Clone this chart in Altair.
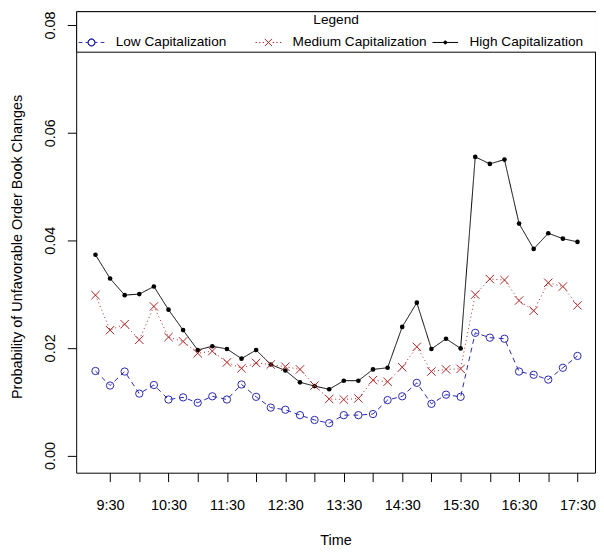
import altair as alt
import pandas as pd

# ---- data ----
times = ["9:15", "9:30", "9:45", "10:00", "10:15", "10:30", "10:45", "11:00",
         "11:15", "11:30", "11:45", "12:00", "12:15", "12:30", "12:45", "13:00",
         "13:15", "13:30", "13:45", "14:00", "14:15", "14:30", "14:45", "15:00",
         "15:15", "15:30", "15:45", "16:00", "16:15", "16:30", "16:45", "17:00",
         "17:15", "17:30"]

low = [0.0157, 0.0130, 0.0156, 0.0115, 0.0131, 0.0104, 0.0108, 0.0098, 0.0110,
       0.0104, 0.0132, 0.0109, 0.0089, 0.0085, 0.0075, 0.0066, 0.0060, 0.0075,
       0.0075, 0.0077, 0.0103, 0.0110, 0.0135, 0.0096, 0.0113, 0.0109, 0.0228,
       0.0219, 0.0217, 0.0156, 0.0150, 0.0141, 0.0163, 0.0185]

medium = [0.0298, 0.0233, 0.0244, 0.0215, 0.0277, 0.0220, 0.0212, 0.0190, 0.0194,
          0.0173, 0.0162, 0.0172, 0.0169, 0.0165, 0.0160, 0.0130, 0.0105, 0.0104,
          0.0106, 0.0140, 0.0137, 0.0164, 0.0202, 0.0156, 0.0160, 0.0161, 0.0299,
          0.0328, 0.0326, 0.0288, 0.0269, 0.0321, 0.0314, 0.0279]

high = [0.0373, 0.0329, 0.0298, 0.0300, 0.0314, 0.0271, 0.0233, 0.0196, 0.0203,
        0.0198, 0.0180, 0.0196, 0.0169, 0.0158, 0.0136, 0.0129, 0.0123, 0.0139,
        0.0139, 0.0160, 0.0163, 0.0239, 0.0284, 0.0198, 0.0217, 0.0199, 0.0555,
        0.0542, 0.0550, 0.0431, 0.0384, 0.0413, 0.0403, 0.0397]

series_names = ["Low Capitalization", "Medium Capitalization", "High Capitalization"]
series_values = [low, medium, high]
series_colors = ["#2828B0", "#B22222", "#000000"]
series_dashes = [[5, 4], [1, 3], [1, 0]]

x_tick_hours = [9.5, 10.0, 10.5, 11.0, 11.5, 12.0, 12.5, 13.0, 13.5, 14.0,
                14.5, 15.0, 15.5, 16.0, 16.5, 17.0, 17.5]
y_tick_values = [0.0, 0.02, 0.04, 0.06, 0.08]

# legend glyphs (line sample + marker), unit square [-1, 1]
legend_paths = [
    "M-1,0H-0.72M-0.46,0H-0.28M0.28,0H0.46M0.72,0H1"
    "M0.28,0A0.28,0.28 0 1 1 -0.28,0A0.28,0.28 0 1 1 0.28,0Z"
    "M0.25,0A0.25,0.25 0 1 0 -0.25,0A0.25,0.25 0 1 0 0.25,0Z",
    "M-1,0H-0.9M-0.72,0H-0.62M-0.44,0H-0.34M0.34,0H0.44M0.62,0H0.72M0.9,0H1"
    "M-0.28,-0.28L0.28,0.28M-0.28,0.28L0.28,-0.28",
    "M-1,0H1M0.12,0A0.12,0.12 0 1 1 -0.12,0A0.12,0.12 0 1 1 0.12,0"
    "M0.04,0A0.04,0.04 0 1 1 -0.04,0A0.04,0.04 0 1 1 0.04,0",
]
marker_shapes = ["circle", "M-1,-1L1,1M-1,1L1,-1", "circle"]
marker_sizes = [55, 72, 22]
marker_filled = [False, False, True]


def to_hours(t):
    h, m = t.split(":")
    return int(h) + int(m) / 60.0


rows = []
for name, vals in zip(series_names, series_values):
    for t, v in zip(times, vals):
        rows.append({"time": t, "hour": to_hours(t), "series": name, "value": v})
df = pd.DataFrame(rows)

FONT = "Liberation Sans"
FS = 14.6
LFS = 13.8

x_enc = alt.X(
    "hour:Q",
    scale=alt.Scale(domain=[8.92, 17.8], nice=False, zero=False),
    axis=alt.Axis(
        values=x_tick_hours,
        labelExpr="datum.value % 1 == 0.5 ? floor(datum.value) + ':30' : ''",
        title="Time",
        titleY=73,
        titleBaseline="alphabetic",
        labelPadding=28,
        labelBaseline="alphabetic",
    ),
)
y_enc = alt.Y(
    "value:Q",
    scale=alt.Scale(domain=[-0.0032, 0.08258], nice=False, zero=False),
    axis=alt.Axis(
        values=y_tick_values,
        format=".2f",
        title="Probability of Unfavorable Order Book Changes",
        labelAngle=-90,
        labelAlign="center",
        labelBaseline="alphabetic",
        labelPadding=13.4,
        titleAngle=-90,
        titleX=-55.8,
        titleY=238,
        titleAlign="center",
        titleBaseline="alphabetic",
    ),
)
color_scale = alt.Scale(domain=series_names, range=series_colors)
color_nolegend = alt.Color("series:N", scale=color_scale, legend=None)

# pad the last label with a blank (non-whitespace) glyph so the legend box
# spans the plot width, as R's legend does
legend_label_expr = (
    "datum.value == 'High Capitalization' ? datum.label + '\u2800' : datum.label"
)

base = alt.Chart(df)

# legend-only layer (no data rows): one merged legend for colour + glyph
legend_layer = base.transform_filter("false").mark_point(
    filled=False, strokeWidth=1, opacity=1
).encode(
    x=x_enc,
    y=y_enc,
    color=alt.Color(
        "series:N", scale=color_scale,
        legend=alt.Legend(title="Legend", labelExpr=legend_label_expr),
    ),
    shape=alt.Shape(
        "series:N",
        scale=alt.Scale(domain=series_names, range=legend_paths),
        legend=alt.Legend(title="Legend", labelExpr=legend_label_expr),
    ),
)

layers = [legend_layer]
for name, dash in zip(series_names, series_dashes):
    layers.append(
        base.transform_filter(alt.datum.series == name)
        .mark_line(strokeWidth=1, strokeDash=dash)
        .encode(x=x_enc, y=y_enc, color=color_nolegend)
    )

for i in [2, 0, 1]:
    layers.append(
        base.transform_filter(alt.datum.series == series_names[i])
        .mark_point(
            shape=marker_shapes[i],
            size=marker_sizes[i],
            filled=marker_filled[i],
            strokeWidth=1,
            opacity=1,
        )
        .encode(x=x_enc, y=y_enc, color=color_nolegend)
    )

chart = (
    alt.layer(*layers)
    .properties(
        width=525,
        height=467,
        autosize="none",
        padding={"left": 69, "top": 0, "right": 1, "bottom": 75},
        background="white",
    )
    .configure_view(stroke="black", strokeWidth=1, fill="white")
    .configure_axis(
        domain=False,
        grid=False,
        ticks=True,
        tickSize=9,
        tickColor="black",
        tickWidth=1,
        labelFont=FONT,
        labelFontSize=FS,
        labelColor="black",
        labelFlush=False,
        labelOverlap=False,
        titleFont=FONT,
        titleFontSize=FS,
        titleFontWeight="normal",
        titleColor="black",
    )
    .configure_legend(
        orient="none",
        legendX=0,
        legendY=0,
        direction="horizontal",
        columns=3,
        gridAlign="all",
        columnPadding=3.0,
        padding=2,
        strokeColor="black",
        fillColor="white",
        cornerRadius=0,
        titleAnchor="middle",
        titleFont=FONT,
        titleFontSize=LFS,
        titleFontWeight="normal",
        titleColor="black",
        titlePadding=2,
        labelFont=FONT,
        labelFontSize=LFS,
        labelColor="black",
        labelOffset=11,
        labelLimit=300,
        symbolSize=676,
        symbolStrokeWidth=1,
    )
)

chart.save("out.html", embed_options={"renderer": "svg", "actions": False})
